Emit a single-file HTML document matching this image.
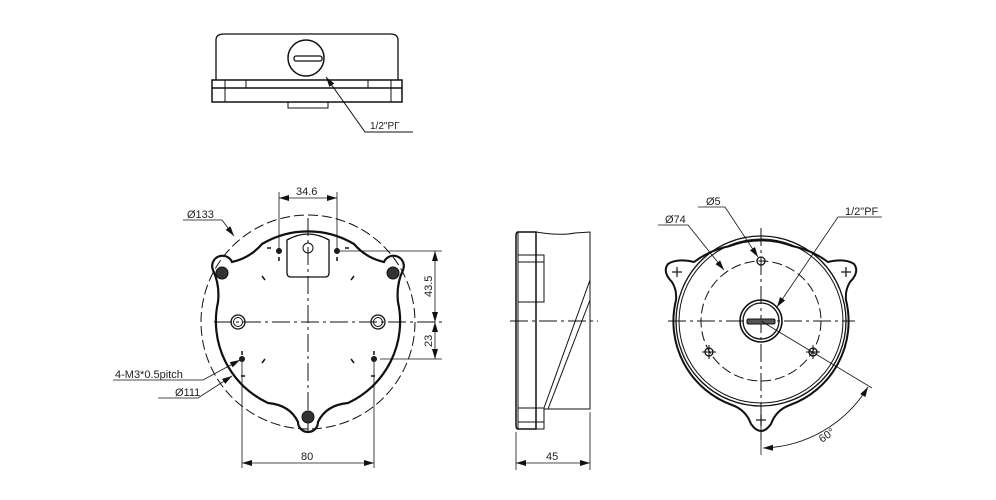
<!DOCTYPE html>
<html><head><meta charset="utf-8"><style>
html,body{margin:0;padding:0;background:#fff;}
svg{display:block;}
text{font-family:"Liberation Sans",sans-serif;fill:#222;}
</style></head><body>
<svg width="996" height="500" viewBox="0 0 996 500" xmlns="http://www.w3.org/2000/svg">
<defs>
<marker id="ar" markerWidth="10" markerHeight="6" refX="10" refY="3" orient="auto" markerUnits="userSpaceOnUse">
<path d="M0,0 L10,3 L0,6 Z" fill="#111"/></marker>
<marker id="as" markerWidth="10" markerHeight="6" refX="0" refY="3" orient="auto" markerUnits="userSpaceOnUse">
<path d="M10,0 L0,3 L10,6 Z" fill="#111"/></marker>
</defs>
<g fill="none" stroke="#111" stroke-width="1">

<!-- TOP VIEW -->
<path d="M216,80 L216,40 Q216,34 224,34 L390,34 Q398,34 398,40 L398,80" stroke-width="1.3"/>
<rect x="212" y="80" width="190" height="22" stroke-width="1.5"/>
<line x1="212" y1="88" x2="402" y2="88" stroke-width="1.5"/>
<line x1="225" y1="80" x2="225" y2="102"/>
<line x1="246" y1="80" x2="246" y2="88"/>
<line x1="368" y1="80" x2="368" y2="88"/>
<line x1="391" y1="80" x2="391" y2="102"/>
<rect x="288" y="102" width="40" height="6" stroke-width="1"/>
<circle cx="306" cy="58" r="18" stroke-width="1.5"/>
<rect x="294" y="56" width="28" height="5" rx="2" stroke-width="1.3"/>
<path d="M413,132 L365,132 L326,77" marker-end="url(#ar)"/>

<!-- FRONT VIEW -->
<circle cx="308" cy="322" r="107" stroke-dasharray="10,4"/>
<line x1="214" y1="322" x2="445" y2="322" stroke-dasharray="18,4,3,4"/>
<line x1="308" y1="218" x2="308" y2="432" stroke-dasharray="18,4,3,4"/>
<path d="M213,270 A10 10 0 0 1 232,262 Q250,258 262,244 A90 90 0 0 1 354,244 Q366,258 384,262 A10 10 0 0 1 403,270 Q396,285 398,302 A90 90 0 0 1 348,403 Q326,405 318,422 A10 10 0 0 1 298,422 Q290,405 268,403 A90 90 0 0 1 218,302 Q220,285 213,270 Z" stroke-width="2.2"/>
<circle cx="222" cy="273" r="6" fill="#333" stroke-width="1"/>
<circle cx="393" cy="273" r="6" fill="#333" stroke-width="1"/>
<circle cx="308" cy="417" r="6" fill="#333" stroke-width="1"/>
<path d="M287,240 L287,273 Q287,277 291,277 L325,277 Q329,277 329,273 L329,240 Q308,228 287,240 Z" stroke-width="1.3"/>
<circle cx="308" cy="248" r="5"/>
<circle cx="238" cy="322" r="7" stroke-width="1.3"/><circle cx="238" cy="322" r="4.5"/>
<circle cx="378" cy="322" r="7" stroke-width="1.3"/><circle cx="378" cy="322" r="4.5"/>
<g fill="#222">
<circle cx="279" cy="251" r="2.5"/><circle cx="337" cy="251" r="2.5"/>
<circle cx="242" cy="359" r="2.5"/><circle cx="374" cy="359" r="2.5"/>
</g>
<g stroke-width="1.5">
<line x1="267" y1="248" x2="271" y2="248"/><line x1="345" y1="248" x2="349" y2="248"/>
<line x1="279" y1="257" x2="279" y2="261"/><line x1="337" y1="257" x2="337" y2="261"/>
<line x1="242" y1="351" x2="242" y2="355"/><line x1="374" y1="351" x2="374" y2="355"/>
<line x1="241" y1="376" x2="245" y2="376"/><line x1="371" y1="376" x2="375" y2="376"/>
<line x1="262" y1="276" x2="265" y2="280"/><line x1="354" y1="276" x2="351" y2="280"/>
<line x1="262" y1="363" x2="265" y2="359"/><line x1="354" y1="363" x2="351" y2="359"/>
</g>
<!-- dims front -->
<line x1="279" y1="192" x2="279" y2="251" stroke-width="0.8"/>
<line x1="337" y1="192" x2="337" y2="251" stroke-width="0.8"/>
<line x1="279" y1="198" x2="337" y2="198" marker-start="url(#as)" marker-end="url(#ar)" stroke-width="0.8"/>
<line x1="340" y1="251" x2="442" y2="251" stroke-width="0.8"/>
<line x1="380" y1="359" x2="442" y2="359" stroke-width="0.8"/>
<line x1="435" y1="251" x2="435" y2="322" marker-start="url(#as)" marker-end="url(#ar)" stroke-width="0.8"/>
<line x1="435" y1="322" x2="435" y2="359" marker-start="url(#as)" marker-end="url(#ar)" stroke-width="0.8"/>
<line x1="242" y1="362" x2="242" y2="468" stroke-width="0.8"/>
<line x1="374" y1="362" x2="374" y2="468" stroke-width="0.8"/>
<line x1="242" y1="463" x2="374" y2="463" marker-start="url(#as)" marker-end="url(#ar)" stroke-width="0.8"/>
<path d="M183,220 L222,220 L234,236" marker-end="url(#ar)" stroke-width="0.8"/>
<path d="M113,380 L203,380 L240,360" marker-end="url(#ar)" stroke-width="0.8"/>
<path d="M158,398 L198,398 L232,376" marker-end="url(#ar)" stroke-width="0.8"/>

<!-- SIDE VIEW -->
<line x1="510" y1="321" x2="598" y2="321" stroke-dasharray="18,4,3,4"/>
<path d="M518,232 L536,232 L536,429 L518,429 Q516,429 516,425 L516,236 Q516,232 518,232 Z" stroke-width="1.5"/>
<line x1="518" y1="232" x2="518" y2="429"/>
<path d="M536,232 Q560,236 575,233 L590,232 L590,409 L544,409" stroke-width="1"/>
<rect x="518" y="255" width="26" height="47" stroke-width="1"/>
<line x1="518" y1="262" x2="544" y2="262"/>
<rect x="518" y="408" width="26" height="21" stroke-width="1"/>
<line x1="518" y1="422" x2="544" y2="422"/>
<line x1="590" y1="280" x2="544" y2="408"/>
<line x1="590" y1="300" x2="548" y2="409"/>
<line x1="516" y1="432" x2="516" y2="470" stroke-width="0.8"/>
<line x1="590" y1="412" x2="590" y2="470" stroke-width="0.8"/>
<line x1="516" y1="463" x2="590" y2="463" marker-start="url(#as)" marker-end="url(#ar)" stroke-width="0.8"/>

<!-- RIGHT VIEW -->
<path d="M694,262 Q710,250 730,246 A89 89 0 0 1 792,246 Q812,250 828,262 Q845,258 854,264 Q860,272 850,282 Q845,290 846,300 A89 89 0 0 1 790,405 Q776,410 771,424 Q761,438 751,424 Q746,410 732,405 A89 89 0 0 1 676,300 Q677,290 672,282 Q662,272 668,264 Q677,258 694,262 Z" stroke-width="2"/>
<circle cx="761" cy="321" r="85" stroke-width="1.3"/>
<circle cx="761" cy="321" r="82" stroke-width="1"/>
<circle cx="761" cy="321" r="60" stroke-dasharray="10,4"/>
<line x1="668" y1="321" x2="855" y2="321" stroke-dasharray="18,4,3,4"/>
<line x1="761" y1="228" x2="761" y2="440" stroke-dasharray="18,4,3,4"/>
<circle cx="761" cy="321" r="21" stroke-width="1.6"/>
<circle cx="761" cy="321" r="18" stroke-width="1.3"/>
<rect x="747" y="319" width="28" height="5" rx="1.5" fill="#555" stroke-width="1"/>
<circle cx="761" cy="261" r="4" stroke-width="1.3"/>
<circle cx="709" cy="352" r="4" stroke-width="1.3"/>
<circle cx="813" cy="352" r="4" stroke-width="1.3"/>
<line x1="702" y1="352" x2="716" y2="352"/><line x1="806" y1="352" x2="820" y2="352"/>
<line x1="709" y1="345" x2="709" y2="359"/><line x1="813" y1="345" x2="813" y2="359"/>
<g stroke-width="1.2">
<line x1="672" y1="272" x2="682" y2="272"/><line x1="677" y1="267" x2="677" y2="277"/>
<line x1="841" y1="272" x2="851" y2="272"/><line x1="846" y1="267" x2="846" y2="277"/>
<line x1="756" y1="420" x2="766" y2="420"/><line x1="761" y1="415" x2="761" y2="425"/>
</g>
<line x1="761" y1="321" x2="872" y2="388" stroke-width="0.8"/>
<line x1="761" y1="425" x2="761" y2="455" stroke-width="0.8"/>
<path d="M763,448 A127 127 0 0 0 868,387" marker-start="url(#as)" marker-end="url(#ar)" stroke-width="0.8"/>
<path d="M698,207 L725,207 L758,257" marker-end="url(#ar)" stroke-width="0.8"/>
<path d="M658,225 L688,225 L724,270" marker-end="url(#ar)" stroke-width="0.8"/>
<path d="M882,217 L838,217 L777,307" marker-end="url(#ar)" stroke-width="0.8"/>
</g>

<g font-size="11">
<text x="370" y="129" font-size="10">1/2"PΓ</text>
<text x="296" y="195">34.6</text>
<text x="187" y="218">Ø133</text>
<text x="115" y="378">4-M3*0.5pitch</text>
<text x="175" y="396">Ø111</text>
<text x="301" y="460">80</text>
<text x="546" y="460">45</text>
<text transform="translate(432,297) rotate(-90)">43.5</text>
<text transform="translate(432,347) rotate(-90)">23</text>
<text x="706" y="205">Ø5</text>
<text x="665" y="223">Ø74</text>
<text x="845" y="215">1/2"PF</text>
<text transform="translate(822,443) rotate(-35)">60°</text>
</g>
</svg>
</body></html>
